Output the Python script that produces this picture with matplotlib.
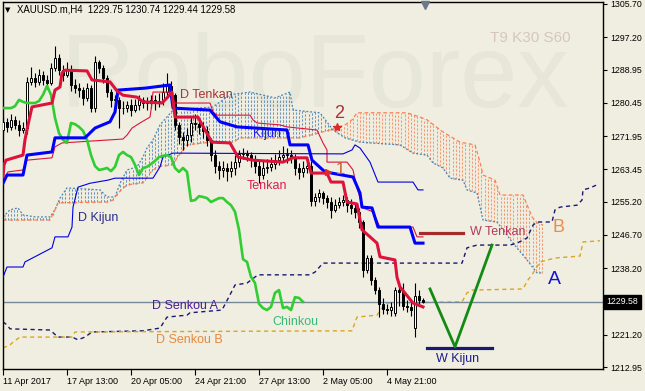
import numpy as np
import matplotlib
matplotlib.use("Agg")
import matplotlib.pyplot as plt
from matplotlib.transforms import blended_transform_factory

plt.rcParams['font.family'] = ['Liberation Sans', 'DejaVu Sans']

# ---------------- data (H4 bars, x = bar index) ----------------
opens = [1273.5,1275.5,1274.3,1276.1,1274.8,1273.5,1274.0,1285.8,1286.8,1285.8,
         1287.6,1286.3,1285.5,1289.4,1291.9,1288.8,1287.6,1288.8,1285.0,1284.2,
         1283.7,1281.7,1284.2,1279.1,1290.9,1289.4,1286.8,1283.2,1281.2,1281.2,
         1279.1,1279.1,1279.9,1278.6,1279.9,1281.2,1280.4,1280.4,1281.2,1280.4,
         1280.9,1283.2,1284.8,1282.4,1274.8,1271.7,1271.0,1272.2,1275.3,1275.0,
         1274.3,1273.3,1271.0,1267.1,1264.3,1263.3,1263.8,1263.0,1263.8,1265.3,
         1267.4,1267.6,1267.1,1265.8,1264.3,1262.0,1263.8,1264.1,1264.8,1265.8,
         1266.6,1267.1,1267.1,1266.6,1263.8,1262.8,1263.8,1264.3,1255.4,1256.4,
         1257.4,1256.1,1255.1,1253.1,1254.3,1255.1,1255.6,1254.3,1253.6,1252.6,
         1250.0,1237.7,1240.8,1235.2,1232.6,1229.1,1227.8,1227.5,1226.7,1232.6,
         1232.1,1228.5,1228.3,1222.9,1231.1,1230.1]
highs = [1277.0,1276.5,1277.5,1277.0,1276.0,1275.5,1287.0,1289.5,1288.0,1289.0,
         1288.5,1287.5,1290.5,1295.0,1293.0,1290.0,1291.0,1290.0,1286.5,1285.5,
         1284.5,1285.5,1285.0,1292.5,1291.5,1290.0,1287.5,1284.0,1282.5,1282.0,
         1281.0,1281.0,1281.5,1281.5,1282.5,1282.0,1282.0,1282.5,1282.5,1283.0,
         1285.5,1288.0,1286.0,1283.0,1275.5,1273.0,1274.0,1277.0,1277.5,1276.0,
         1275.5,1274.5,1271.5,1268.5,1265.5,1265.5,1265.0,1265.5,1267.0,1268.5,
         1269.0,1268.5,1268.0,1267.0,1265.5,1265.5,1266.0,1266.5,1267.5,1268.5,
         1269.5,1269.0,1268.5,1267.5,1265.0,1265.5,1266.0,1265.5,1257.5,1258.5,
         1258.0,1257.0,1256.5,1256.0,1256.5,1257.0,1256.5,1256.0,1254.5,1253.5,
         1250.5,1241.5,1241.5,1236.0,1233.5,1230.5,1229.0,1229.5,1233.5,1234.5,
         1234.5,1230.0,1229.5,1234.5,1232.5,1230.7]
lows = [1272.5,1273.0,1273.5,1273.8,1272.0,1272.8,1272.5,1285.0,1284.5,1285.0,
        1285.0,1284.0,1285.0,1288.5,1287.5,1286.0,1287.0,1283.5,1283.0,1282.0,
        1280.0,1281.0,1278.0,1278.0,1288.0,1285.5,1282.0,1279.5,1279.5,1274.0,
        1277.5,1278.0,1277.0,1278.0,1278.5,1279.0,1278.5,1279.0,1278.5,1279.5,
        1280.0,1282.0,1281.5,1273.5,1270.0,1268.5,1269.5,1270.5,1273.5,1272.5,
        1271.5,1269.5,1265.5,1262.5,1261.0,1261.5,1260.5,1261.5,1262.0,1264.0,
        1266.0,1265.5,1264.0,1262.5,1260.0,1261.0,1262.5,1263.0,1263.5,1264.5,
        1265.5,1265.0,1265.0,1262.0,1261.0,1261.5,1262.5,1254.0,1254.0,1255.0,
        1254.5,1253.5,1251.0,1252.5,1253.5,1254.0,1252.5,1252.0,1251.0,1248.5,
        1235.9,1237.0,1234.0,1231.5,1225.7,1226.5,1226.5,1226.0,1226.0,1228.5,
        1227.5,1227.0,1226.0,1220.6,1229.0,1229.4]
closes = [1275.5,1274.3,1276.1,1274.8,1273.5,1274.0,1285.8,1286.8,1285.8,1287.6,
          1286.3,1285.5,1289.4,1291.9,1288.8,1287.6,1288.8,1285.0,1284.2,1283.7,
          1281.7,1284.2,1279.1,1290.9,1289.4,1286.8,1283.2,1281.2,1281.2,1279.1,
          1279.1,1279.9,1278.6,1279.9,1281.2,1280.4,1280.4,1281.2,1280.4,1280.9,
          1283.2,1284.8,1282.4,1274.8,1271.7,1271.0,1272.2,1275.3,1275.0,1274.3,
          1273.3,1271.0,1267.1,1264.3,1263.3,1263.8,1263.0,1263.8,1265.3,1267.4,
          1267.6,1267.1,1265.8,1264.3,1262.0,1263.8,1264.1,1264.8,1265.8,1266.6,
          1267.1,1267.1,1266.6,1263.8,1262.8,1263.8,1264.3,1255.4,1256.4,1257.4,
          1256.1,1255.1,1253.1,1254.3,1255.1,1255.6,1254.3,1253.6,1252.6,1250.0,
          1237.7,1240.8,1235.2,1232.6,1229.1,1227.8,1227.5,1228.3,1232.6,1232.1,
          1228.5,1228.3,1227.5,1231.1,1230.1,1229.58]

tenkan_bars = [0,0.25,0.75,5,5.5,6.25,7.25,12.25,13,14.25,14.75,15.5,21,22.25,26.75,28.5,30,33.5,35,39.75,
               41,42.25,43,48.75,50.5,52.25,56.75,58.75,62.5,70,72.5,76,77,81,82,85,86,88.5,89.75,91.75,
               93.5,94.25,98,98.5,99.25,102.5,105]
tenkan_vals = [1261.5,1264.6,1265.8,1267.1,1271.0,1274.8,1279.4,1280.4,1283.7,1284.5,1288.1,1288.8,1288.6,1286.3,
               1285.8,1283.5,1282.4,1281.9,1280.7,1280.4,1281.7,1283.2,1276.8,1276.8,1273.5,1270.4,1270.2,1266.6,
               1265.8,1265.3,1266.4,1266.4,1262.5,1262.5,1260.2,1260.2,1255.1,1254.6,1248.0,1246.2,1244.6,1241.1,
               1240.3,1235.9,1233.4,1229.3,1228.3]

kijun_bars = [0,1,5,6,12.25,13,20.5,23,26.75,28,28.75,35.5,41.75,42.5,51.75,54.25,58.5,71,71.75,76.25,
              77.25,80.5,87.5,89.25,89.75,92.25,93.75,101.75,103,105]
kijun_vals = [1259.9,1262.0,1262.0,1267.1,1267.9,1271.5,1271.5,1274.0,1275.6,1278.1,1283.7,1284.2,1285.0,1279.1,
              1278.6,1275.6,1274.3,1273.5,1269.7,1269.7,1265.8,1262.8,1261.5,1257.4,1253.8,1253.6,1248.7,1248.7,
              1244.6,1244.6]

d_tenkan_bars = [0.5,1.25,5,6,12.25,13,14.75,30,31,32.25,34.25,36.75,37.25,37.5,41.75,42.5,43,51.75,52.5,53.5,
                 61.75,62.5,63.5,69.25,71,78.5,80,81,81,86,87.5,88.5,90,92.5,94.25,102.5,103.5,105]
d_tenkan_vals = [1261.5,1262.8,1263.3,1265.8,1266.4,1269.2,1270.2,1271.2,1272.2,1274.0,1275.3,1276.8,1280.4,1283.2,
                 1283.2,1281.2,1280.4,1280.4,1278.1,1277.3,1277.3,1276.1,1275.3,1274.8,1274.3,1273.5,1270.2,1268.4,
                 1265.3,1265.3,1263.3,1258.7,1253.6,1252.6,1248.7,1248.7,1246.2,1246.2]

d_kijun_bars = [0,1,5,5.5,12.25,13,16.25,17.25,17.5,18.75,21.75,26.25,28,37.5,39.25,40,42.5,85,87.25,88,
                89.25,91.75,93.75,102.5,103.75,105]
d_kijun_vals = [1235.9,1238.5,1238.5,1239.8,1243.4,1246.2,1246.2,1248.7,1253.8,1258.9,1259.9,1260.7,1261.2,1261.2,
                1264.1,1266.6,1267.6,1267.4,1268.4,1269.7,1268.9,1265.3,1260.2,1260.2,1258.2,1258.2]

chinkou = [1279.1,1279.1,1279.1,1279.6,1281.2,1280.7,1280.4,1280.4,1280.4,1280.9,
           1282.5,1284.8,1282.5,1276.6,1272.7,1271.0,1270.2,1275.3,1275.0,1274.3,
           1273.3,1271.0,1267.1,1264.3,1263.3,1263.5,1263.8,1263.0,1264.1,1267.1,
           1267.9,1267.1,1266.6,1264.6,1262.0,1263.8,1264.1,1264.8,1265.6,1266.6,
           1266.9,1267.1,1266.6,1263.8,1262.8,1263.8,1262.8,1255.4,1255.6,1256.6,
           1256.4,1256.1,1255.1,1255.6,1256.1,1256.1,1255.1,1254.3,1252.6,1248.0,
           1240.5,1239.8,1236.0,1234.4,1229.1,1228.0,1227.5,1228.3,1231.9,1232.6,
           1228.0,1228.3,1227.5,1230.8,1230.6,1229.6]

senkou_a_bars = [0,1.75,3.75,5,8,11.75,13,14.25,16,24.25,26,28,29.25,31,33.5,35,36,37.5,39.25,42.5,
                 52.5,56.75,61.75,68,71.75,72.5,79.25,82.5,85.5,89.25,99.25,102.5,106,107.5,110,111.75,115,116,
                 118.5,120,123.5,127.5,131,133.5,135]
senkou_a_vals = [1251.3,1253.1,1253.6,1251.8,1251.3,1251.3,1253.1,1256.1,1258.7,1258.2,1256.4,1256.4,1259.9,1263.3,
                 1264.1,1266.6,1268.9,1271.0,1274.8,1278.6,1279.4,1282.5,1283.2,1281.7,1283.2,1278.6,1277.9,1273.5,
                 1271.5,1270.4,1269.7,1267.6,1267.1,1265.1,1263.8,1261.2,1260.7,1258.2,1257.4,1250.5,1250.0,1244.6,
                 1240.3,1237.0,1237.0]
senkou_b_bars = [0,11.75,13,13.75,26,27.5,28.75,31,35,36.75,38.5,42.5,43.5,46,51.75,57.5,59.25,74.25,81.75,85.5,
                 87.25,88.5,101,104.25,106,110,114.25,118,119.25,120,123,124.25,130,132.25,133.5,135]
senkou_b_vals = [1250.5,1250.5,1253.1,1254.9,1255.1,1255.6,1257.4,1259.5,1260.0,1262.5,1264.1,1264.6,1266.4,1269.7,
                 1270.4,1270.4,1271.5,1271.5,1273.5,1274.8,1276.1,1277.9,1277.9,1276.8,1276.1,1273.0,1270.4,1269.7,
                 1265.3,1262.0,1260.7,1256.9,1256.9,1251.3,1249.8,1249.2]

d_senkou_a_bars = [0,1,1.75,11.75,13.75,17.25,18.75,20.5,22.25,35,39.25,41,46,46.75,54.75,56.75,58,61,63.75,76.75,
                   78,80,114.75,116,118.5,126.75,128.5,131,132.5,133.5,137.25,138,139.25,143.5,144.75,145,146.75,148.5]
d_senkou_a_vals = [1224.5,1223.7,1222.7,1222.4,1220.6,1220.6,1219.9,1220.6,1221.9,1222.2,1222.9,1225.7,1226.2,1226.8,
                   1227.5,1231.4,1233.9,1234.4,1236.5,1236.5,1237.2,1239.5,1239.5,1243.4,1244.1,1244.1,1244.6,1245.9,
                   1249.2,1250.0,1250.0,1253.1,1253.8,1254.3,1255.6,1258.2,1258.7,1259.5]
d_senkou_b_bars = [0,1.75,2.5,4.25,17.25,18,87.25,88.5,93.5,94.75,96,114.75,116,117.25,130,131.25,132.25,134.25,
                   138,144.25,145,149.25]
d_senkou_b_vals = [1217.8,1218.6,1219.3,1220.6,1220.6,1221.9,1222.2,1225.7,1226.2,1228.0,1229.3,1229.6,1231.9,1232.6,
                   1232.9,1235.2,1236.5,1239.8,1240.8,1241.3,1244.9,1245.2]

w_tenkan_bars = [104.25, 115]
w_tenkan_vals = [1247.2, 1247.2]
w_kijun_bars = [106, 122.25]
w_kijun_vals = [1217.8, 1217.8]
arrow_bars = [106.75, 113, 122.25]
arrow_vals = [1232.9, 1218.1, 1244.1]

last_price = 1229.58
ytick_vals = [1305.70, 1297.20, 1288.95, 1280.45, 1271.95, 1263.45, 1255.20, 1246.70, 1238.20, 1221.20, 1212.95]
xtick_bars = [0, 16, 32, 48, 64, 80, 96]
xtick_labels = ['11 Apr 2017', '17 Apr 13:00', '20 Apr 05:00', '24 Apr 21:00', '27 Apr 13:00', '2 May 05:00', '4 May 21:00']

# ---------------- figure ----------------
W, H = 645, 391
BG = '#efeee0'
fig = plt.figure(figsize=(W / 100, H / 100), dpi=100, facecolor=BG)
L, R, T, B = 2.5, 603, 2, 369
ax = fig.add_axes([L / W, (H - B) / H, (R - L) / W, (B - T) / H])
ax.set_facecolor(BG)
ax.set_xlim(-0.125, 150)
ax.set_ylim(1212.44, 1306.21)


def axpos(px, py):
    return ((px - L) / (R - L), (B - py) / (B - T))


# watermark
wx, wy = axpos(315, 80)
ax.text(wx, wy, 'RoboForex', transform=ax.transAxes, fontsize=74, color='#e6e6d9',
        ha='center', va='center', zorder=0.2)

# H4 cloud hatch
hx = np.arange(0.4, 135.0, 0.8)
ha_ = np.interp(hx, senkou_a_bars, senkou_a_vals)
hb_ = np.interp(hx, senkou_b_bars, senkou_b_vals)
bull = ha_ >= hb_
ax.vlines(hx[bull], hb_[bull], ha_[bull], colors='#5683b5', linewidth=0.75, alpha=0.85,
          linestyles=(0, (2.2, 1.6)), zorder=1)
ax.vlines(hx[~bull], ha_[~bull], hb_[~bull], colors='#f58a63', linewidth=0.75, alpha=0.85,
          linestyles=(0, (2.2, 1.6)), zorder=1)
ax.plot(senkou_a_bars, senkou_a_vals, color='#4682b4', lw=0.9, ls=(0, (1.5, 1.5)), zorder=1.5)
ax.plot(senkou_b_bars, senkou_b_vals, color='#ff7f50', lw=0.9, ls=(0, (3, 2)), zorder=1.5)

# daily senkou
ax.plot(d_senkou_a_bars, d_senkou_a_vals, color='#191970', lw=1.0, ls=(0, (3, 2.5)), zorder=1.6)
ax.plot(d_senkou_b_bars, d_senkou_b_vals, color='#daa520', lw=1.0, ls=(0, (3, 2.5)), zorder=1.6)

# current price line
ax.axhline(last_price, color='#778899', lw=1.0, zorder=1.7)

# candles
x = np.arange(len(closes))
o = np.array(opens); c = np.array(closes)
ax.vlines(x, lows, highs, color='black', lw=0.8, zorder=3)
body_lo = np.minimum(o, c)
body_h = np.maximum(np.abs(c - o), 0.15)
up = c >= o
ax.bar(x, body_h, bottom=body_lo, width=0.62, color=np.where(up, 'white', 'black'),
       edgecolor='black', linewidth=0.7, zorder=4)

# ichimoku lines
ax.plot(d_tenkan_bars, d_tenkan_vals, color='#dc143c', lw=0.8, zorder=5)
ax.plot(d_kijun_bars, d_kijun_vals, color='#0000e0', lw=0.8, zorder=5)
ax.plot(range(len(chinkou)), chinkou, color='#32cd32', lw=1.9, zorder=5)
ax.plot(kijun_bars, kijun_vals, color='#0000ff', lw=2.2, zorder=6)
ax.plot(tenkan_bars, tenkan_vals, color='#dc143c', lw=2.2, zorder=6)

# weekly lines and annotation drawing
ax.plot(w_tenkan_bars, w_tenkan_vals, color='#a52a2a', lw=2.3, zorder=6)
ax.plot(w_kijun_bars, w_kijun_vals, color='#191970', lw=2.3, zorder=6)
ax.plot(arrow_bars, arrow_vals, color='#138a13', lw=2.0, zorder=6)

# markers
ax.plot([83.5], [1274.3], marker='*', ms=6, color='#e02828', zorder=7)
ax.plot([81.2], [1262.7], marker='>', ms=4, color='#e02828', zorder=7)
ax.plot([105.5], [1305.5], marker='v', ms=6, color='#6a7a8a', zorder=7, clip_on=False)

# text labels (pixel positions)
labels = [
    ('D Tenkan', 180, 95, '#a83236', 9),
    ('Kijun', 253, 134, '#1e1ee6', 9),
    ('Tenkan', 247, 186, '#dc1e50', 9),
    ('D Kijun', 78, 218, '#2b2b8c', 9),
    ('D Senkou A', 152, 306, '#4b1c96', 9),
    ('D Senkou B', 156, 340, '#e8883a', 9),
    ('Chinkou', 272, 322, '#3cb878', 9),
    ('W Tenkan', 470, 232, '#b33a5e', 9),
    ('W Kijun', 436, 359, '#1c1c8c', 9),
    ('A', 548, 279, '#1515d0', 14),
    ('B', 553, 227, '#f08a4a', 13),
    ('2', 334, 113, '#a83236', 13),
    ('1', 336, 170, '#c0602a', 12),
    ('T9 K30 S60', 490, 38, '#d6c6bf', 11),
]
for txt, px, py, col, fs in labels:
    tx, ty = axpos(px, py)
    ax.text(tx, ty, txt, transform=ax.transAxes, color=col, fontsize=fs,
            ha='left', va='center', zorder=8)

# header
hx0, hy0 = axpos(5, 10)
ax.text(hx0, hy0, '▼', transform=ax.transAxes, fontsize=5, color='black',
        ha='left', va='center', family='DejaVu Sans', zorder=8)
hx1, hy1 = axpos(17, 10)
ax.text(hx1, hy1, 'XAUUSD.m,H4  1229.75 1230.74 1229.44 1229.58', transform=ax.transAxes,
        fontsize=6.9, color='black', ha='left', va='center', zorder=8)

# axes styling
for s in ax.spines.values():
    s.set_color('black')
    s.set_linewidth(1.0)
ax.yaxis.tick_right()
ax.set_yticks(ytick_vals)
ax.set_yticklabels([f'{v:.2f}' for v in ytick_vals])
ax.tick_params(axis='y', length=3, width=0.8, pad=2, labelsize=6.3, colors='black')
ax.set_xticks(xtick_bars)
ax.set_xticklabels(xtick_labels)
ax.tick_params(axis='x', length=4, width=0.8, pad=2, labelsize=6.5, colors='black')
for lbl in ax.get_xticklabels():
    lbl.set_ha('left')

trans = blended_transform_factory(ax.transAxes, ax.transData)
ax.text(1.006, last_price, f'{last_price:.2f}', transform=trans, fontsize=6.3, color='white',
        ha='left', va='center', zorder=10, clip_on=False,
        bbox=dict(facecolor='black', edgecolor='black', boxstyle='square,pad=0.25'))

fig.savefig('out.png', dpi=100, facecolor=BG)
